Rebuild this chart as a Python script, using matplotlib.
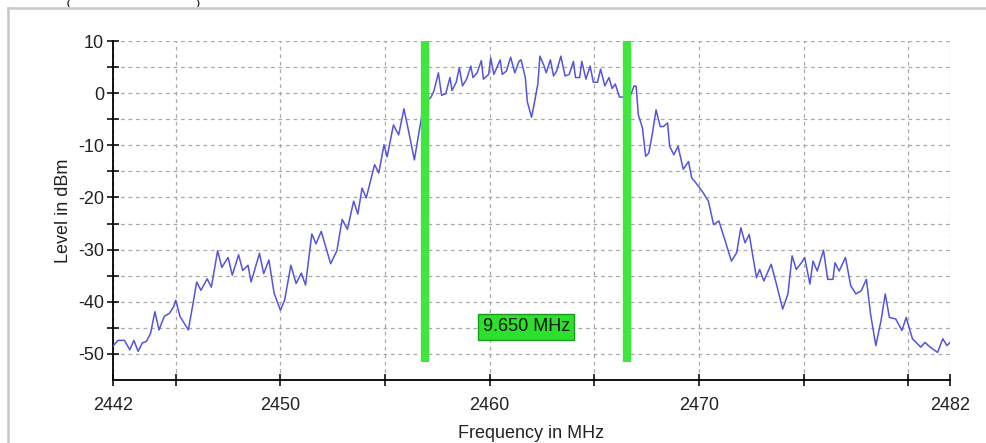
import matplotlib
matplotlib.use("Agg")
import matplotlib.pyplot as plt
from matplotlib.lines import Line2D
from matplotlib.ticker import FixedLocator

"""
    Spectrum trace with occupied bandwidth markers
"""

# Trace readings (frequency in MHz, level in dBm)
freq_mhz = [
    2442.0, 2442.24, 2442.55, 2442.8, 2443.0, 2443.2, 2443.4, 2443.6, 2443.8,
    2444.0, 2444.2, 2444.45, 2444.7, 2444.9, 2445.0, 2445.2, 2445.6, 2445.8,
    2446.0, 2446.2, 2446.5, 2446.7, 2447.0, 2447.2, 2447.5, 2447.7, 2448.0,
    2448.2, 2448.45, 2448.6, 2449.0, 2449.2, 2449.45, 2449.7, 2450.0, 2450.2,
    2450.5, 2450.75, 2451.0, 2451.2, 2451.5, 2451.7, 2451.95, 2452.4, 2452.7,
    2452.95, 2453.2, 2453.5, 2453.7, 2453.9, 2454.1, 2454.5, 2454.7, 2454.95,
    2455.1, 2455.4, 2455.65, 2455.9, 2456.1, 2456.4, 2456.6, 2456.85,
    2457.2, 2457.34, 2457.55, 2457.7, 2457.9, 2458.1, 2458.2, 2458.4, 2458.55,
    2458.7, 2458.9, 2459.1, 2459.2, 2459.4, 2459.6, 2459.7, 2459.95, 2460.05,
    2460.2, 2460.5, 2460.6, 2460.8, 2461.0, 2461.2, 2461.4, 2461.5, 2461.7,
    2461.8, 2462.0, 2462.1, 2462.3, 2462.4, 2462.6, 2462.7, 2462.9, 2463.05,
    2463.2, 2463.4, 2463.6, 2463.8, 2464.0, 2464.1, 2464.3, 2464.4, 2464.6,
    2464.8, 2464.95, 2465.15, 2465.3, 2465.5, 2465.7, 2465.85, 2466.0, 2466.2,
    2466.35, 2466.7, 2466.9, 2467.0, 2467.1, 2467.3, 2467.45, 2467.6, 2467.75,
    2467.95, 2468.15, 2468.3, 2468.5, 2468.6, 2468.8, 2469.0, 2469.25, 2469.5,
    2469.65, 2469.97, 2470.2, 2470.45, 2470.7, 2470.95, 2471.25, 2471.55,
    2471.8, 2472.0, 2472.2, 2472.4, 2472.75, 2472.9, 2473.1, 2473.45, 2473.7,
    2474.0, 2474.25, 2474.45, 2474.65, 2474.9, 2475.05, 2475.3, 2475.45,
    2475.65, 2475.95, 2476.15, 2476.4, 2476.5, 2476.7, 2477.0, 2477.25, 2477.5,
    2477.75, 2478.0, 2478.2, 2478.45, 2478.7, 2478.9, 2479.1, 2479.4, 2479.7,
    2479.9, 2480.2, 2480.6, 2480.8, 2481.05, 2481.4, 2481.65, 2481.85, 2482.0,
]
level_dbm = [
    -48.5, -47.4, -47.4, -49.2, -47.4, -49.5, -47.9, -47.6, -46.0,
    -41.9, -45.4, -42.8, -42.2, -40.9, -39.7, -42.8, -45.4, -40.9,
    -36.2, -37.8, -35.6, -37.2, -30.2, -33.4, -31.5, -34.9, -31.0,
    -34.0, -33.0, -36.2, -30.7, -34.6, -32.0, -38.4, -41.6, -39.7,
    -33.0, -36.5, -34.5, -36.8, -27.0, -28.9, -26.5, -32.7, -30.2,
    -24.2, -26.1, -20.7, -23.2, -18.2, -20.1, -13.7, -15.3, -9.9,
    -12.2, -6.1, -8.0, -3.0, -6.8, -12.8, -8.0, -2.0,
    -0.75, 0.5, 3.9, -0.4, -0.1, 3.0, 0.5, 2.1, 4.9,
    1.4, 2.7, 5.2, 3.0, 3.9, 6.25, 2.7, 3.6, 6.75,
    3.6, 6.4, 3.6, 4.25, 6.9, 3.9, 6.1, 6.4, 3.0,
    -1.7, -4.6, -2.6, 1.75, 7.1, 5.2, 3.9, 6.4, 3.3,
    4.25, 7.1, 3.3, 3.6, 6.1, 3.0, 3.0, 6.1, 2.7,
    5.2, 2.1, 2.1, 4.6, 1.4, 3.0, 0.9, 1.75, -0.75,
    -0.75, -0.75, 1.4, 1.3, -4.1, -6.7, -12.1, -11.5, -8.3,
    -3.2, -6.4, -6.4, -5.7, -10.2, -11.8, -10.2, -14.6, -13.1,
    -16.2, -17.8, -19.1, -20.7, -25.2, -24.5, -28.3, -32.2,
    -30.6, -25.8, -28.7, -27.1, -35.4, -33.8, -36.0, -32.8, -36.6,
    -41.4, -38.5, -31.2, -33.8, -32.5, -31.5, -36.6, -32.2,
    -34.1, -30.1, -35.7, -35.7, -32.5, -34.1, -31.5, -36.9, -38.5,
    -37.9, -35.7, -42.4, -48.4, -43.6, -38.5, -43.0, -43.3, -45.5,
    -43.0, -47.1, -48.7, -47.8, -48.7, -49.7, -47.1, -48.4, -47.8,
]

# Occupied bandwidth markers
marker_freqs = [2456.92, 2466.57]
bandwidth_label = "9.650 MHz"

# Axis ticks
x_ticks = [2442, 2445, 2450, 2455, 2460, 2465, 2470, 2475, 2480, 2482]
x_tick_labels = ["2442", "", "2450", "", "2460", "", "2470", "", "", "2482"]
y_ticks = [-50, -45, -40, -35, -30, -25, -20, -15, -10, -5, 0, 5, 10]
y_tick_labels = ["-50", "", "-40", "", "-30", "", "-20", "", "-10", "", "0",
                 "", "10"]

FONT = ["Liberation Sans", "DejaVu Sans"]
TEXT_COLOR = "#222222"


def plot_spectrum():
    """
    This function draws the spectrum trace, the two bandwidth
    markers and the bandwidth label
    """
    fig = plt.figure(figsize=(9.86, 4.43), dpi=100)
    ax = fig.add_axes([0.1146, 0.1422, 0.849, 0.7652])

    # Trace
    ax.plot(freq_mhz, level_dbm, color="#5454dc", linewidth=1.1, zorder=3)

    # Green marker bars on top of the trace
    ax.vlines(marker_freqs, -51.5, 10, colors="#3ee63e", linewidth=6,
              zorder=4)

    # Bandwidth label in a green box
    ax.text(sum(marker_freqs) / 2, -44.8, bandwidth_label,
            ha="center", va="center", fontsize=13, family=FONT,
            color="#111111", zorder=5,
            bbox=dict(boxstyle="square,pad=0.25", facecolor="#2ee02e",
                      edgecolor="#1a9a1a", linewidth=1))

    ax.set_xlim(2442, 2482)
    ax.set_ylim(-55, 10)

    # Ticks and labels
    ax.xaxis.set_major_locator(FixedLocator(x_ticks))
    ax.set_xticklabels(x_tick_labels)
    ax.yaxis.set_major_locator(FixedLocator(y_ticks))
    ax.set_yticklabels(y_tick_labels)
    ax.tick_params(direction="inout", length=9, width=1.2, color="#111111",
                   labelsize=13, labelcolor=TEXT_COLOR)
    ax.tick_params(axis="x", pad=8)
    ax.tick_params(axis="y", pad=2)
    for lbl in ax.get_xticklabels() + ax.get_yticklabels():
        lbl.set_family(FONT)

    ax.set_xlabel("Frequency in MHz", fontsize=13, family=FONT,
                  color=TEXT_COLOR, labelpad=8)
    ax.set_ylabel("Level in dBm", fontsize=13, family=FONT,
                  color=TEXT_COLOR, labelpad=4)

    # Spines: only left and bottom
    ax.spines["top"].set_visible(False)
    ax.spines["right"].set_visible(False)
    ax.spines["left"].set_linewidth(1.3)
    ax.spines["bottom"].set_linewidth(1.3)

    # Dashed grid
    ax.grid(True, color="#a8a8a8", linestyle=(0, (3, 3)), linewidth=0.9)
    ax.set_axisbelow(True)

    # Outer panel border
    fig.add_artist(Line2D([0.008, 0.008], [0, 0.982], color="#c8c8c8",
                          linewidth=1.8, transform=fig.transFigure))
    fig.add_artist(Line2D([0.008, 1.0], [0.982, 0.982], color="#c8c8c8",
                          linewidth=1.8, transform=fig.transFigure))

    # Small bracket remnants of the panel title at the very top
    fig.text(0.068, 0.999, "(", fontsize=6, fontweight="bold",
             family=FONT, va="top", color="#111111")
    fig.text(0.200, 0.999, ")", fontsize=6, fontweight="bold",
             family=FONT, va="top", color="#111111")

    return fig, ax


fig, ax = plot_spectrum()
fig.savefig("out.png", dpi=100)
